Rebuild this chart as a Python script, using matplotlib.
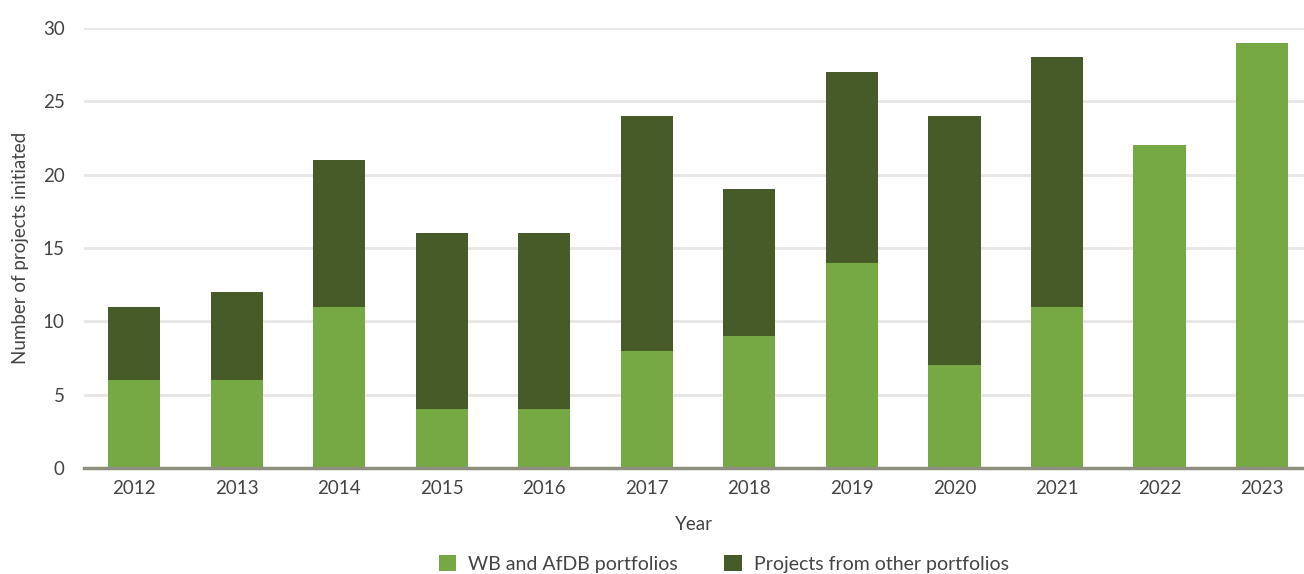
import matplotlib

matplotlib.use("Agg")
import matplotlib.pyplot as plt
import numpy as np

YEARS = ["2012", "2013", "2014", "2015", "2016", "2017",
         "2018", "2019", "2020", "2021", "2022", "2023"]
WB_AFDB = [6, 6, 11, 4, 4, 8, 9, 14, 7, 11, 22, 29]
OTHER = [5, 6, 10, 12, 12, 16, 10, 13, 17, 17, 0, 0]

VERDE = "#76A844"
VERDE_OSCURO = "#465B28"
TEXTO = "#444444"

plt.rcParams["font.family"] = ["Lato", "DejaVu Sans"]

fig = plt.figure(figsize=(13.04, 5.74), dpi=100)
ax = fig.add_axes([0.0644, 0.1847, 0.9356, 0.7665])

x = np.arange(len(YEARS))
ax.bar(x, WB_AFDB, width=0.51, color=VERDE, label="WB and AfDB portfolios", zorder=2)
ax.bar(x, OTHER, width=0.51, bottom=WB_AFDB, color=VERDE_OSCURO,
       label="Projects from other portfolios", zorder=2)

ax.set_xlim(-0.49, 11.41)
ax.set_ylim(0, 30)
ax.set_yticks(range(0, 31, 5))
ax.set_xticks(x)
ax.set_xticklabels(YEARS)
ax.grid(axis="y", color="#E6E6E6", linewidth=2, zorder=0)
ax.set_axisbelow(True)

for lado in ["top", "right", "left"]:
    ax.spines[lado].set_visible(False)
ax.spines["bottom"].set_color("#8F8F80")
ax.spines["bottom"].set_linewidth(2.5)
ax.spines["bottom"].set_zorder(3)

ax.tick_params(axis="both", length=0, labelsize=13.5, colors=TEXTO)
ax.tick_params(axis="x", pad=9)
ax.tick_params(axis="y", pad=14)

ax.set_xlabel("Year", fontsize=13.5, color=TEXTO, labelpad=13)
ax.set_ylabel("Number of projects initiated", fontsize=13.5, color=TEXTO, labelpad=10)

fig.legend(loc="center", bbox_to_anchor=(0.555, 0.018), ncol=2, frameon=False,
           fontsize=14, handlelength=0.9, handleheight=0.9, columnspacing=2.4,
           handletextpad=0.6, labelcolor=TEXTO, borderaxespad=0, borderpad=0)

fig.savefig("out.png", dpi=100)
